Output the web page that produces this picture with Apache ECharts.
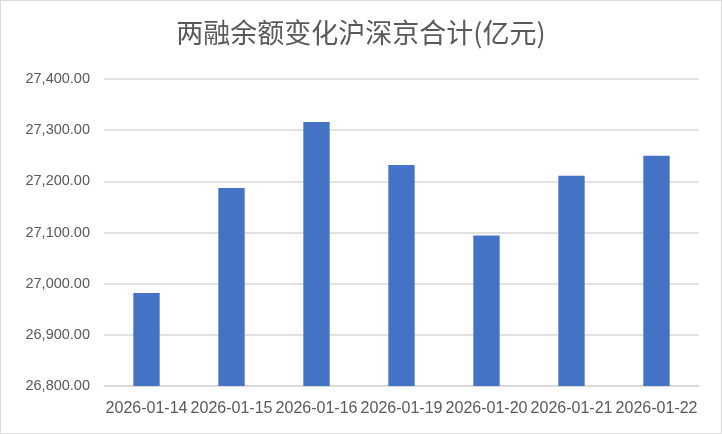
<!DOCTYPE html>
<html>
<head>
<meta charset="utf-8">
<script src="https://cdn.jsdelivr.net/npm/echarts@6/dist/echarts.min.js"></script>
<style>
  html, body { margin: 0; padding: 0; background: #fff; }
  #chart { width: 720px; height: 432px; border: 1px solid #d9d9d9; }
</style>
</head>
<body>
<div id="chart"></div>
<script>
// 交易日
var dates = ['2026-01-14', '2026-01-15', '2026-01-16', '2026-01-19', '2026-01-20', '2026-01-21', '2026-01-22'];
// 两融余额 沪深京合计 (亿元)
var balances = [26982, 27187, 27316, 27232, 27094, 27211, 27250];
// y轴范围
var yMin = 26800;
var yMax = 27400;
var yStep = 100;

var myChart = echarts.init(document.getElementById('chart'));

var option = {
    animation: false,
    title: {
        text: '两融余额变化沪深京合计(亿元)',
        left: 'center',
        top: 13,
        textStyle: {
            fontFamily: 'Noto Sans CJK SC',
            fontSize: 27,
            fontWeight: 'normal',
            color: '#595959'
        }
    },
    grid: {
        left: 103,
        right: 22,
        top: 78,
        bottom: 47
    },
    xAxis: {
        type: 'category',
        data: dates,
        axisLine: { lineStyle: { color: '#d9d9d9', width: 1.5 } },
        axisTick: { show: false },
        axisLabel: {
            color: '#595959',
            fontFamily: 'Liberation Sans',
            fontSize: 16,
            margin: 15,
            interval: 0
        }
    },
    yAxis: {
        type: 'value',
        min: yMin,
        max: yMax,
        interval: yStep,
        axisLine: { show: false },
        axisTick: { show: false },
        splitLine: { lineStyle: { color: '#d9d9d9', width: 1.5 } },
        axisLabel: {
            color: '#595959',
            fontFamily: 'Liberation Sans',
            fontSize: 14.5,
            margin: 14,
            formatter: function (v) {
                return v.toLocaleString('en-US', { minimumFractionDigits: 2, maximumFractionDigits: 2 });
            }
        }
    },
    series: [
        {
            type: 'bar',
            data: balances,
            barWidth: '31%',
            itemStyle: { color: '#4472c4' }
        }
    ]
};

myChart.setOption(option);
</script>
</body>
</html>
